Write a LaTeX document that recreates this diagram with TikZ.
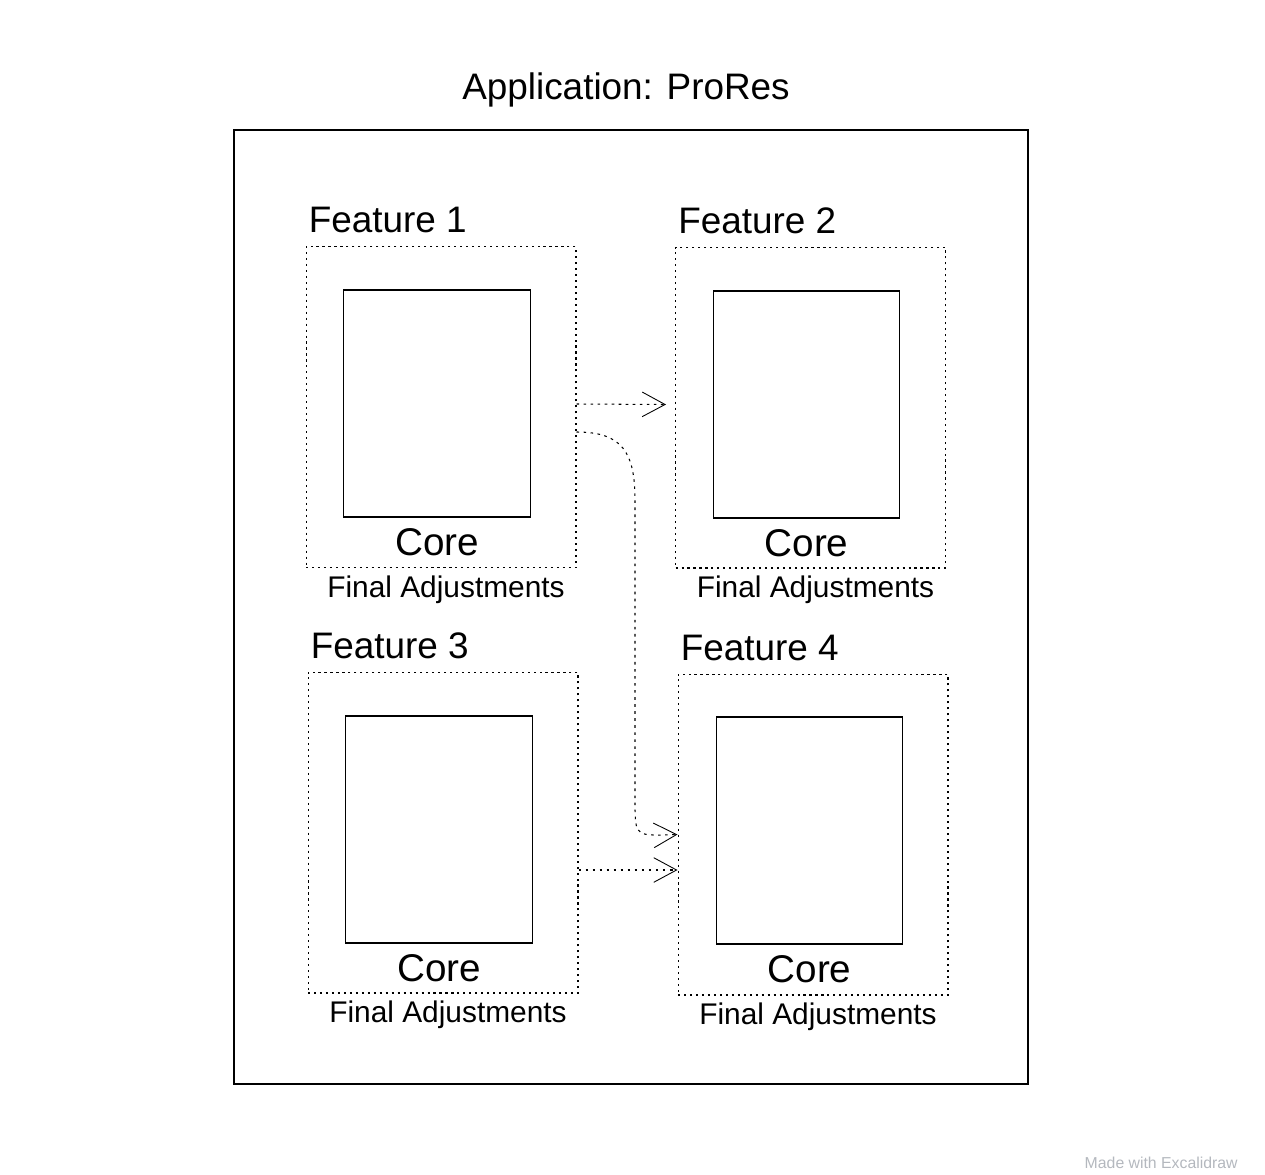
\documentclass[tikz,border=0pt]{standalone}
\usepackage{fontspec}
\setmainfont{Liberation Sans}
\usepackage{xcolor}
\usetikzlibrary{arrows.meta,positioning}
\definecolor{markgray}{RGB}{180,184,190}
\tikzset{
  feature/.style={draw,dash pattern=on 1.2pt off 2.2pt,line width=0.6pt,minimum width=5.4cm,minimum height=6.42cm},
  corebox/.style={draw,line width=0.75pt,minimum width=3.73cm,minimum height=4.54cm},
  flow/.style={dash pattern=on 1.5pt off 2.5pt,line width=0.6pt,-{Straight Barb[length=13pt,width=14pt,line width=0.5pt]}},
  titletext/.style={font=\fontsize{21}{25}\selectfont},
  flabel/.style={font=\fontsize{21}{25}\selectfont,anchor=base west,inner sep=0pt},
  coretext/.style={font=\fontsize{22}{26}\selectfont,anchor=base,inner sep=0pt},
  adjtext/.style={font=\fontsize{17}{20}\selectfont,anchor=base,inner sep=0pt}
}

\begin{document}
\begin{tikzpicture}[x=0.02cm,y=-0.02cm]
\useasboundingbox (0,0) rectangle (1265,1174);

\node[titletext] (title) at (626,90) {Application: ProRes};
\node[draw,line width=0.8pt,minimum width=15.88cm,minimum height=19.08cm] (app) at (631,607) {};

% Feature 1
\node[feature] (f1) at (441,407) {};
\node[corebox] (c1) at (437,403.5) {};
\node[flabel] (l1) at ([xshift=0.06cm,yshift=0.28cm]f1.north west) {Feature 1};
\node[coretext] (k1) at ([yshift=-0.76cm]c1.south) {Core};
\node[adjtext] (a1) at ([xshift=0.1cm,yshift=-0.58cm]f1.south) {Final Adjustments};

% Feature 2
\node[feature] (f2) at (810.5,407.5) {};
\node[corebox] (c2) at (806.5,404.5) {};
\node[flabel] (l2) at ([xshift=0.06cm,yshift=0.26cm]f2.north west) {Feature 2};
\node[coretext] (k2) at ([yshift=-0.76cm]c2.south) {Core};
\node[adjtext] (a2) at ([xshift=0.1cm,yshift=-0.58cm]f2.south) {Final Adjustments};

% Feature 3
\node[feature] (f3) at (443,832.5) {};
\node[corebox] (c3) at (439,829.5) {};
\node[flabel] (l3) at ([xshift=0.06cm,yshift=0.26cm]f3.north west) {Feature 3};
\node[coretext] (k3) at ([yshift=-0.76cm]c3.south) {Core};
\node[adjtext] (a3) at ([xshift=0.1cm,yshift=-0.58cm]f3.south) {Final Adjustments};

% Feature 4
\node[feature] (f4) at (813,834.5) {};
\node[corebox] (c4) at (809.5,830.5) {};
\node[flabel] (l4) at ([xshift=0.06cm,yshift=0.26cm]f4.north west) {Feature 4};
\node[coretext] (k4) at ([yshift=-0.76cm]c4.south) {Core};
\node[adjtext] (a4) at ([xshift=0.1cm,yshift=-0.58cm]f4.south) {Final Adjustments};

% connectors
\draw[flow] ([yshift=0.06cm]f1.east) -- ([xshift=-0.18cm,yshift=0.06cm]f2.west);
\draw[flow] ([yshift=-0.75cm]f3.east) -- ([yshift=-0.75cm]f3.east -| f4.west);
\coordinate (bendtop) at (635,500);
\coordinate (bendlow) at (635,810);
\draw[flow] ([yshift=-0.5cm]f1.east) .. controls (622,432) and (635,452) .. (bendtop) -- (bendlow) .. controls (636,836) .. (f4.west);

\node[font=\fontsize{9}{11}\selectfont,text=markgray,anchor=base east,inner sep=0pt] (mark) at (1238,1168) {Made with Excalidraw};
\end{tikzpicture}
\end{document}
